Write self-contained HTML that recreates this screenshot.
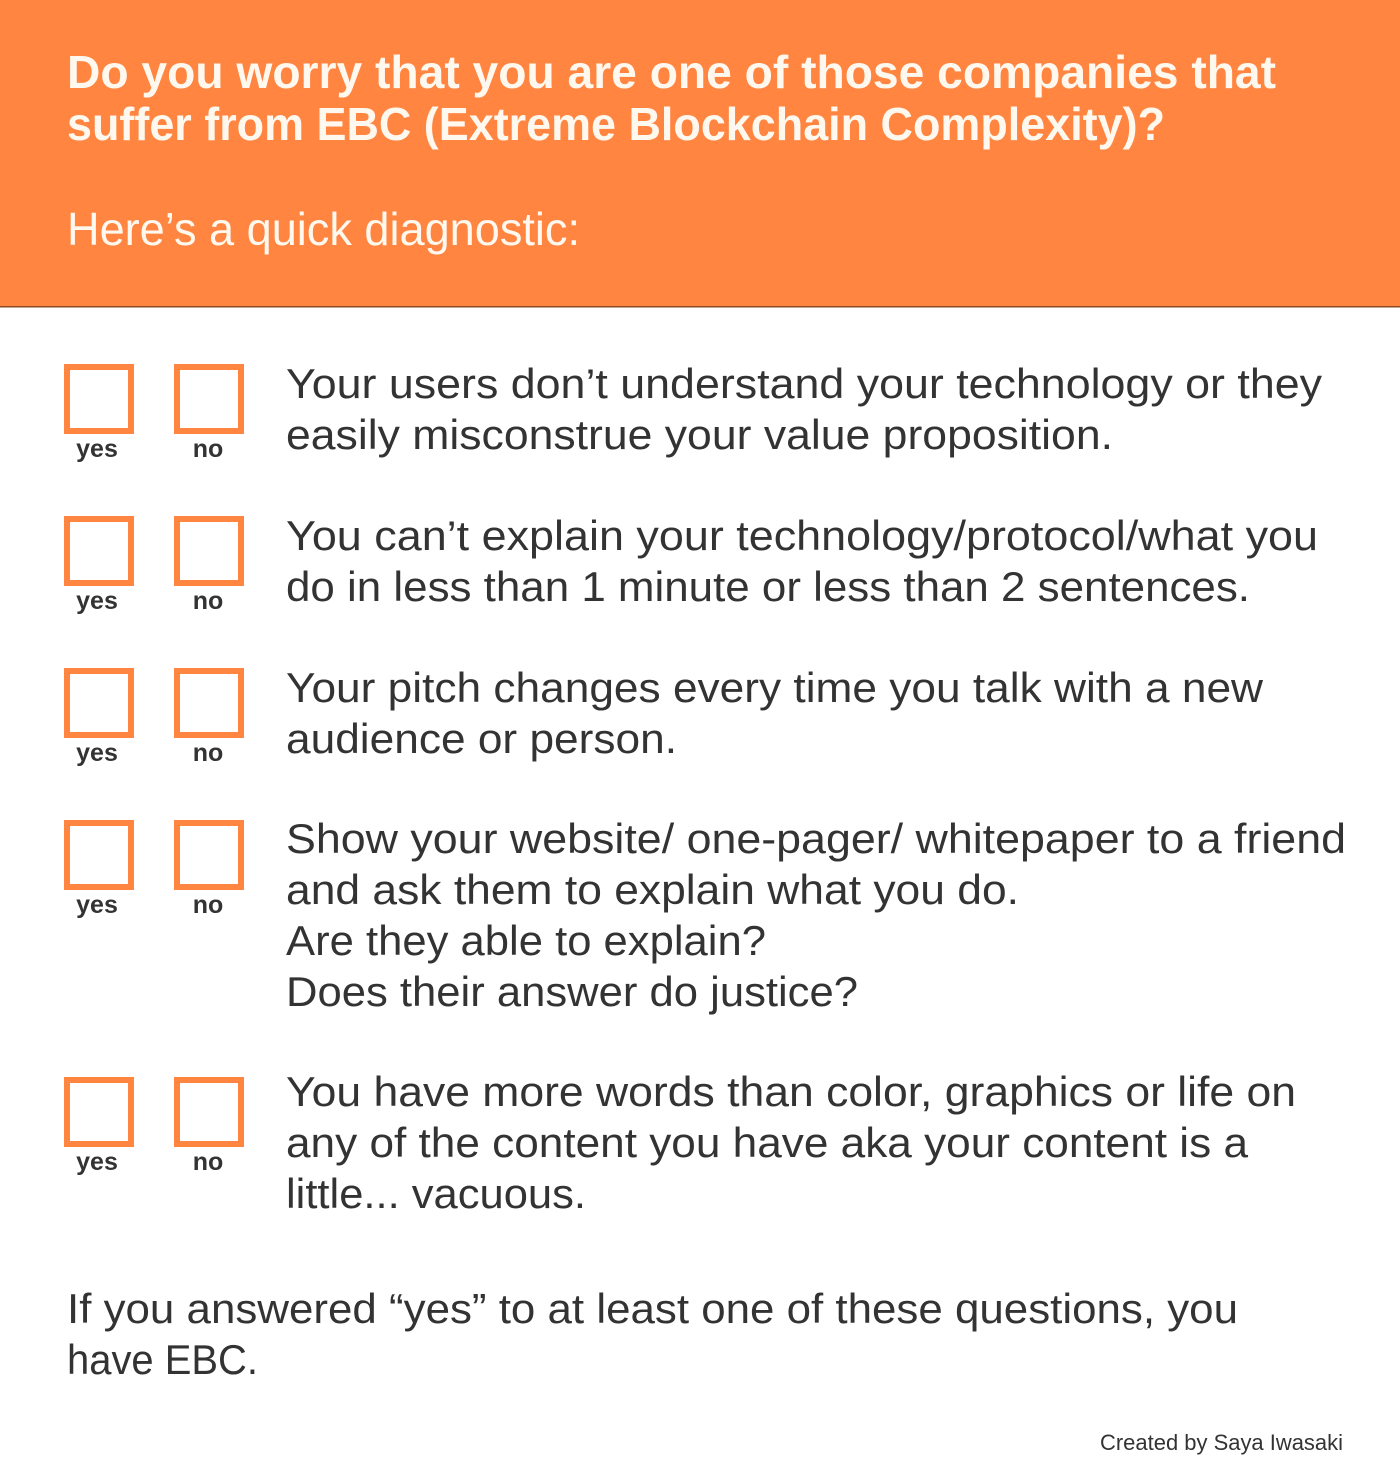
<!DOCTYPE html>
<html><head><meta charset="utf-8"><style>
html,body{margin:0;padding:0;background:#fff}
svg{display:block}
</style></head><body>
<svg width="1400" height="1482" viewBox="0 0 1400 1482" xmlns="http://www.w3.org/2000/svg" font-family="Liberation Sans, sans-serif">
<rect x="0" y="0" width="1400" height="306" fill="#FF8540"/>
<rect x="0" y="306" width="1400" height="1.5" fill="#8a4a25"/>
<g fill="#FFF8EE">
<text x="67" y="88" font-size="46" font-weight="bold" textLength="1209" lengthAdjust="spacingAndGlyphs">Do you worry that you are one of those companies that</text>
<text x="67" y="140" font-size="46" font-weight="bold" textLength="1098" lengthAdjust="spacingAndGlyphs">suffer from EBC (Extreme Blockchain Complexity)?</text>
</g>
<text x="67" y="245" font-size="46" fill="#FFF8EE" textLength="513" lengthAdjust="spacingAndGlyphs">Here’s a quick diagnostic:</text>
<g id="rows"></g>
<g fill="#333" font-size="42">
<text x="67" y="1323" textLength="1171" lengthAdjust="spacingAndGlyphs">If you answered “yes” to at least one of these questions, you</text>
<text x="67" y="1374" textLength="191" lengthAdjust="spacingAndGlyphs">have EBC.</text>
</g>
<text x="1100" y="1450" font-size="22" fill="#333" textLength="243" lengthAdjust="spacingAndGlyphs">Created by Saya Iwasaki</text>
</svg>
<script>
const NS='http://www.w3.org/2000/svg';
const boxTops=[364,516,668,820,1077];
const firstBaselines=[398,550,702,853,1106];
const questions=[
 [["Your users don’t understand your technology or they",1036],["easily misconstrue your value proposition.",827]],
 [["You can’t explain your technology/protocol/what you",1032],["do in less than 1 minute or less than 2 sentences.",964]],
 [["Your pitch changes every time you talk with a new",977],["audience or person.",391]],
 [["Show your website/ one-pager/ whitepaper to a friend",1060],["and ask them to explain what you do.",733],["Are they able to explain?",480],["Does their answer do justice?",572]],
 [["You have more words than color, graphics or life on",1010],["any of the content you have aka your content is a",962],["little... vacuous.",300]]
];
const rows=document.getElementById('rows');
function mk(t,a){const e=document.createElementNS(NS,t);for(const k in a)e.setAttribute(k,a[k]);return e;}
questions.forEach((q,i)=>{
 const g=mk('g',{});
 
 
 [[67,'yes',97],[177,'no',208]].forEach(([x,l,cx])=>{
  const r=mk('rect',{x:x,y:boxTops[i]+3,width:64,height:64,fill:'#fff',stroke:'#FF8540','stroke-width':6});
  
  
  g.appendChild(r);
  const t=mk('text',{x:cx,y:boxTops[i]+93,'font-size':25,'font-weight':'bold',fill:'#333','text-anchor':'middle'});
  t.textContent=l;
  
  
  g.appendChild(t);
 });
 q.forEach(([s,w],j)=>{
  const t=mk('text',{x:286,y:firstBaselines[i]+51*j,'font-size':42,fill:'#333',textLength:w,lengthAdjust:'spacingAndGlyphs'});
  t.textContent=s;
  
  
  g.appendChild(t);
 });
 rows.appendChild(g);
});
</script>
</body></html>
